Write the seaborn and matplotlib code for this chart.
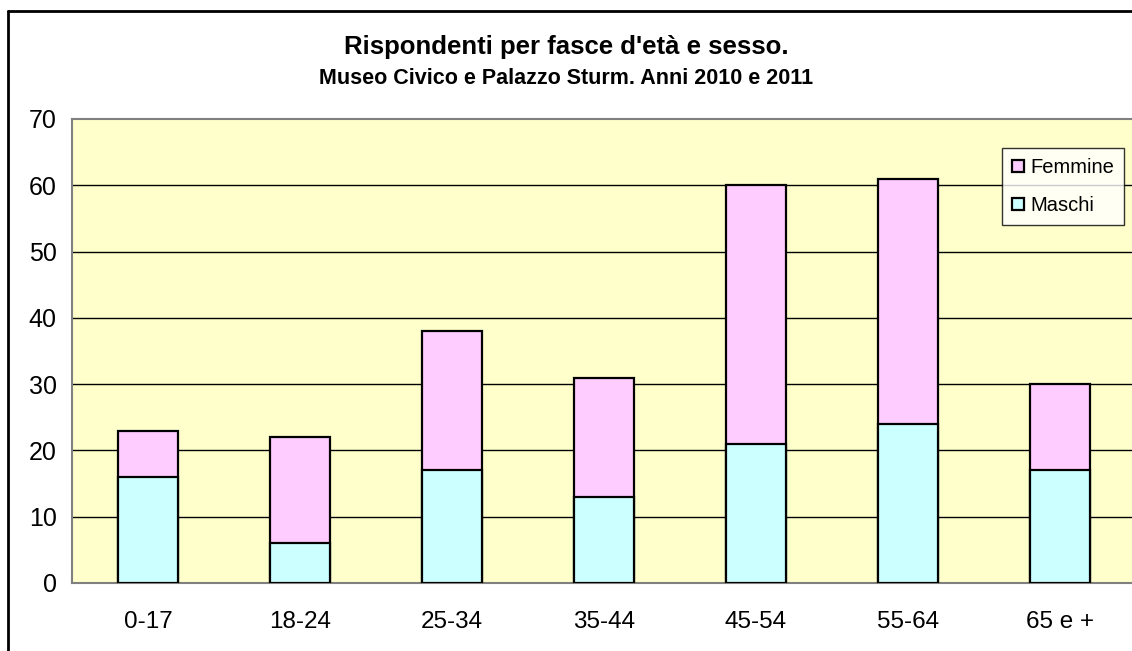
import matplotlib
matplotlib.use("Agg")
import matplotlib.pyplot as plt
import seaborn as sns
import pandas as pd
from matplotlib.lines import Line2D

categories = ["0-17", "18-24", "25-34", "35-44", "45-54", "55-64", "65 e +"]
maschi = [16, 6, 17, 13, 21, 24, 17]
femmine = [7, 16, 21, 18, 39, 37, 13]

totali = [m + f for m, f in zip(maschi, femmine)]
data = pd.DataFrame({"classe": categories, "Maschi": maschi, "Femmine": femmine, "Totale": totali})

sns.set_style("white")
plt.rcParams['font.family'] = ['Liberation Sans', 'DejaVu Sans']
plt.rcParams['text.color'] = 'black'
plt.rcParams['xtick.labelcolor'] = 'black'
plt.rcParams['ytick.labelcolor'] = 'black'

fig = plt.figure(figsize=(11.32, 6.51), dpi=100)
ax = fig.add_axes([72 / 1132, 68 / 651, 1064 / 1132, 464 / 651])
ax.set_facecolor("#FFFFCC")

# stacked bars: total first (femmine on top), then maschi over it
sns.barplot(x="classe", y="Totale", data=data, color="#FFCCFF", width=0.395,
            edgecolor="black", linewidth=1.6, saturation=1, ax=ax, label="Femmine", zorder=3)
sns.barplot(x="classe", y="Maschi", data=data, color="#CCFFFF", width=0.395,
            edgecolor="black", linewidth=1.6, saturation=1, ax=ax, label="Maschi", zorder=3)

ax.set_xlim(-0.5, 6.5)
ax.set_ylim(0, 70)
ax.set_yticks(range(0, 71, 10))
for y in range(10, 70, 10):
    ax.axhline(y, color="black", lw=1, zorder=1)

ax.set_xticks(range(len(categories)))
ax.set_xticklabels(categories, fontsize=17.5)
ax.set_xticks([i - 0.5 for i in range(len(categories) + 1)], minor=True)
ax.tick_params(axis="x", which="major", length=0, pad=20)
ax.tick_params(axis="x", which="minor", length=6, width=1.5, color="#808080", direction="out")
ax.tick_params(axis="y", length=8, width=1, color="#404040", direction="out", labelsize=18, pad=3)
ax.set_xlabel("")
ax.set_ylabel("")

for side in ["left", "bottom", "top"]:
    ax.spines[side].set_color("#808080")
    ax.spines[side].set_linewidth(1.5)
ax.spines["right"].set_visible(False)

handles, labels = ax.get_legend_handles_labels()
leg = ax.legend(handles, labels, loc="upper left", bbox_to_anchor=(930 / 1064, 1 - 29 / 464),
                fontsize=14.5, frameon=True, fancybox=False, edgecolor="black",
                handlelength=0.6, handleheight=0.6, handletextpad=0.3, borderpad=0.5,
                labelspacing=0.95, borderaxespad=0)
leg.get_frame().set_linewidth(1)

fig.text(0.5, 1 - 47 / 651, "Rispondenti per fasce d'età e sesso.", ha="center", va="center",
         fontsize=18.5, fontweight="bold")
fig.text(0.5, 1 - 78 / 651, "Museo Civico e Palazzo Sturm. Anni 2010 e 2011", ha="center", va="center",
         fontsize=15.5, fontweight="bold")

# outer chart frame (only left and top visible)
fig.add_artist(Line2D([8 / 1132, 8 / 1132], [0, 1 - 11 / 651], color="black", lw=2))
fig.add_artist(Line2D([8 / 1132, 1], [1 - 11 / 651, 1 - 11 / 651], color="black", lw=2))

fig.savefig("out.png", dpi=100)
